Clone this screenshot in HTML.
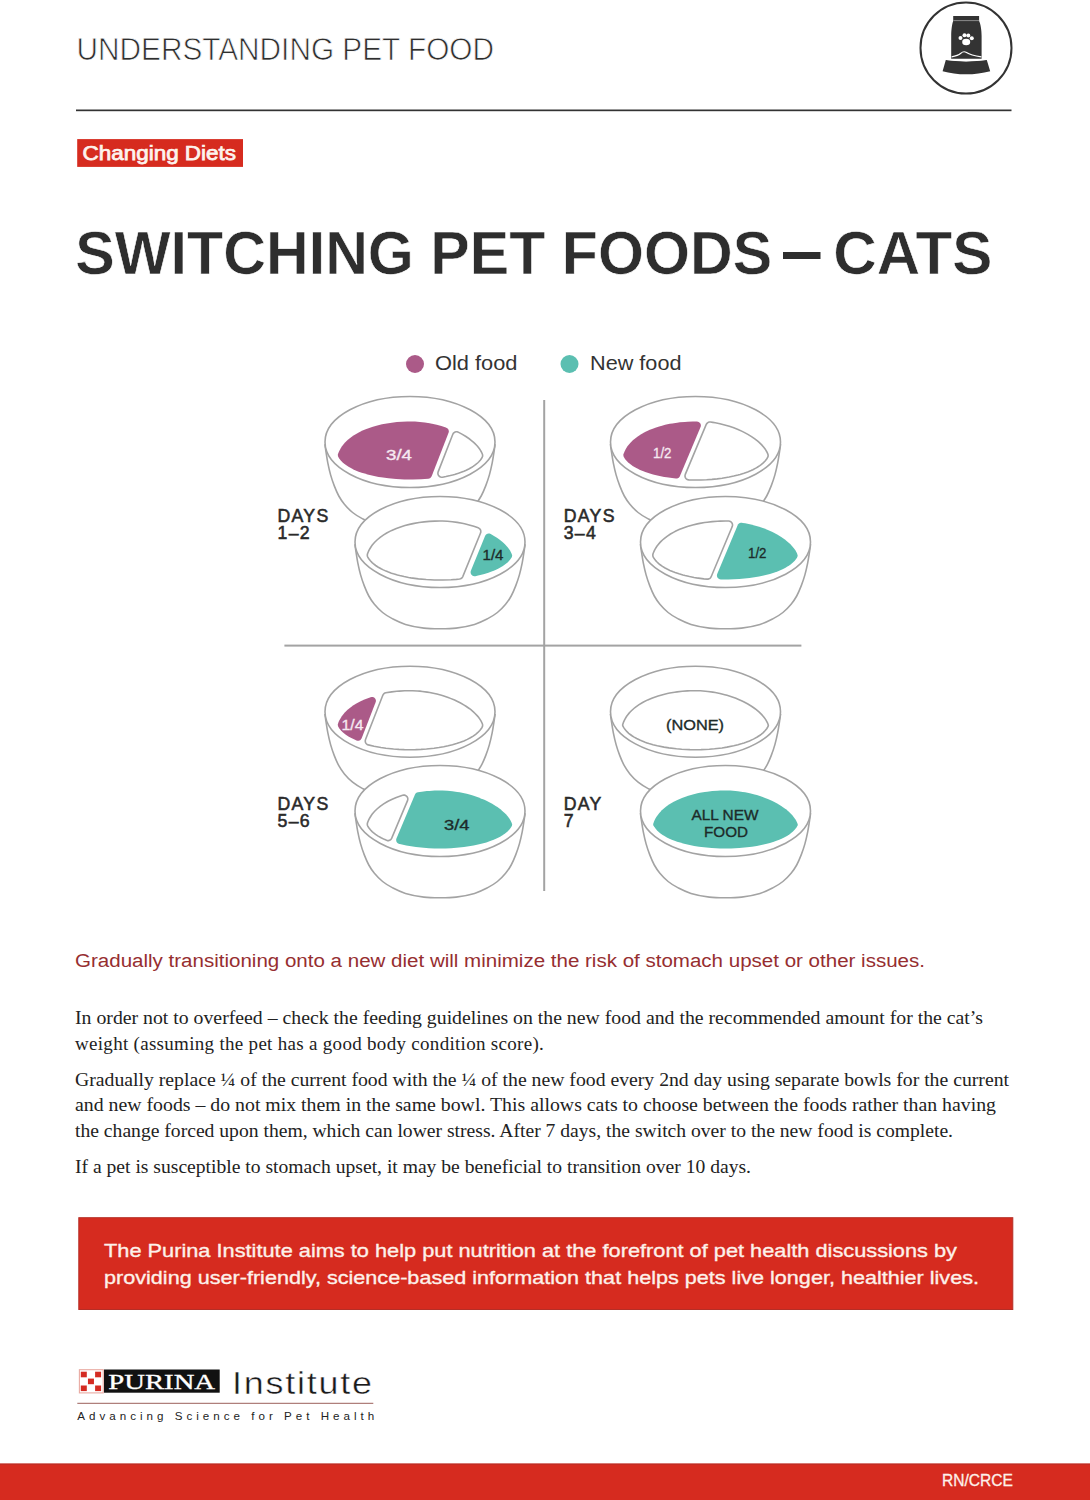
<!DOCTYPE html>
<html><head><meta charset="utf-8"><title>Switching Pet Foods - Cats</title>
<style>
html,body{margin:0;padding:0;background:#fff;}
body{width:1090px;height:1500px;overflow:hidden;position:relative;font-family:"Liberation Sans",sans-serif;}
svg{position:absolute;left:0;top:0;display:block;}
</style></head>
<body>
<svg width="1090" height="1500" viewBox="0 0 1090 1500">
<text x="76.5" y="59.9" font-family="Liberation Sans" font-size="30.8" fill="#2e2e2e" textLength="417.5" lengthAdjust="spacingAndGlyphs" stroke="#fff" stroke-width="0.75">UNDERSTANDING PET FOOD</text>
<rect x="76" y="109.5" width="935.5" height="1.7" fill="#333333"/>
<g>
<circle cx="966" cy="48" r="45.5" fill="none" stroke="#333333" stroke-width="2"/>
<path d="M953.2,16.1 H979.1 V21 C980.6,24 981.6,30 981.6,36 V58.8 H951.2 V36 C951.2,30 952,24 953.2,21 Z" fill="#333333"/>
<rect x="953.2" y="20.1" width="25.9" height="1" fill="#8a8a8a"/>
<g fill="#fff"><circle cx="960.5" cy="38" r="2"/><circle cx="964.5" cy="35.3" r="2"/><circle cx="968.3" cy="35.5" r="2"/><circle cx="971.8" cy="38.3" r="2"/><ellipse cx="966.2" cy="42" rx="4" ry="3.3"/></g>
<path d="M951.6,56.8 C955.5,56.3 958.5,55.5 960.8,53.3 C962.5,51.6 964.5,51.3 966.5,52.5 C969,54.2 974,55.8 981.4,56.9" fill="none" stroke="#fff" stroke-width="1.2"/>
<path d="M945.8,60.1 C958,61.9 974,61.9 986.8,60.1 L990.2,71.2 C975,75.3 957,75.3 942.6,71.2 Z" fill="#333333"/>
<path d="M944,59.3 C958,61.1 974,61.1 988,59.3" fill="none" stroke="#fff" stroke-width="1.1"/>
</g>
<rect x="77.2" y="139.1" width="165.8" height="27.8" fill="#d62b1f"/>
<text x="82.5" y="159.8" font-family="Liberation Sans" font-size="20" fill="#fdf3ee" textLength="153.5" lengthAdjust="spacingAndGlyphs" stroke="#fdf3ee" stroke-width="0.75">Changing Diets</text>
<text x="75.3" y="274.3" font-family="Liberation Sans" font-size="61" font-weight="bold" fill="#2e2e2e" textLength="697" lengthAdjust="spacingAndGlyphs" stroke="#fff" stroke-width="0.6">SWITCHING PET FOODS</text>
<rect x="783" y="252" width="37.5" height="7" fill="#2e2e2e"/>
<text x="833.2" y="274.3" font-family="Liberation Sans" font-size="61" font-weight="bold" fill="#2e2e2e" textLength="159.3" lengthAdjust="spacingAndGlyphs" stroke="#fff" stroke-width="0.6">CATS</text>
<circle cx="415" cy="364" r="9" fill="#ab5a88"/>
<text x="435" y="369.8" font-family="Liberation Sans" font-size="20.3" fill="#333333" textLength="82.5" lengthAdjust="spacingAndGlyphs">Old food</text>
<circle cx="569.5" cy="364" r="9" fill="#5bbfb1"/>
<text x="590" y="369.8" font-family="Liberation Sans" font-size="20.3" fill="#333333" textLength="91.5" lengthAdjust="spacingAndGlyphs">New food</text>
<rect x="543.2" y="400" width="2" height="491" fill="#a3a3a3"/>
<rect x="284.4" y="644.6" width="517" height="2" fill="#a3a3a3"/>
<text x="277.5" y="521.5" font-family="Liberation Sans" font-size="17.7" fill="#2a2a2a" letter-spacing="1.3" stroke="#2a2a2a" stroke-width="0.55">DAYS</text>
<text x="277.5" y="539.2" font-family="Liberation Sans" font-size="17.7" fill="#2a2a2a" letter-spacing="1.3" stroke="#2a2a2a" stroke-width="0.55">1–2</text>
<text x="563.7" y="521.5" font-family="Liberation Sans" font-size="17.7" fill="#2a2a2a" letter-spacing="1.3" stroke="#2a2a2a" stroke-width="0.55">DAYS</text>
<text x="563.7" y="539.2" font-family="Liberation Sans" font-size="17.7" fill="#2a2a2a" letter-spacing="1.3" stroke="#2a2a2a" stroke-width="0.55">3–4</text>
<text x="277.5" y="809.6" font-family="Liberation Sans" font-size="17.7" fill="#2a2a2a" letter-spacing="1.3" stroke="#2a2a2a" stroke-width="0.55">DAYS</text>
<text x="277.5" y="827.3000000000001" font-family="Liberation Sans" font-size="17.7" fill="#2a2a2a" letter-spacing="1.3" stroke="#2a2a2a" stroke-width="0.55">5–6</text>
<text x="563.7" y="809.6" font-family="Liberation Sans" font-size="17.7" fill="#2a2a2a" letter-spacing="1.3" stroke="#2a2a2a" stroke-width="0.55">DAY</text>
<text x="563.7" y="827.3000000000001" font-family="Liberation Sans" font-size="17.7" fill="#2a2a2a" letter-spacing="1.3" stroke="#2a2a2a" stroke-width="0.55">7</text>
<g id="bowls">
<g transform="translate(410,442)"><path d="M-85,3 C-84.83,4.15 -84.47,6.92 -84,9.9 C-83.53,12.88 -82.97,17.07 -82.2,20.9 C-81.43,24.73 -80.48,29.07 -79.4,32.9 C-78.32,36.73 -77.07,40.38 -75.7,43.9 C-74.33,47.42 -72.88,50.95 -71.2,54 C-69.52,57.05 -67.9,59.45 -65.6,62.2 C-63.3,64.95 -60.45,68.05 -57.4,70.5 C-54.35,72.95 -51.12,74.92 -47.3,76.9 C-43.48,78.88 -39.7,80.87 -34.5,82.4 C-29.3,83.93 -21.85,85.37 -16.1,86.1 C-10.35,86.83 -5.37,86.8 0,86.8 C5.37,86.8 10.35,86.83 16.1,86.1 C21.85,85.37 29.3,83.93 34.5,82.4 C39.7,80.87 43.48,78.88 47.3,76.9 C51.12,74.92 54.35,72.95 57.4,70.5 C60.45,68.05 63.3,64.95 65.6,62.2 C67.9,59.45 69.52,57.05 71.2,54 C72.88,50.95 74.33,47.42 75.7,43.9 C77.07,40.38 78.32,36.73 79.4,32.9 C80.48,29.07 81.43,24.73 82.2,20.9 C82.97,17.07 83.53,12.88 84,9.9 C84.47,6.92 84.83,4.15 85,3Z" fill="#fff" stroke="#a3a3a3" stroke-width="1.6"/><ellipse cx="0" cy="0" rx="85" ry="45.5" fill="#fff" stroke="#a3a3a3" stroke-width="1.6"/><path d="M-71.91,11.74 L-72.15,12.85 L-72.07,13.99 L-71.68,15.06 L-70.78,16.5 L-69.25,18.47 L-67.54,20.24 L-66.36,21.29 L-64.05,23.08 L-61.45,24.79 L-58.67,26.36 L-57.01,27.2 L-53.82,28.65 L-51.98,29.39 L-48.38,30.7 L-46.37,31.36 L-42.41,32.51 L-40.23,33.08 L-35.85,34.08 L-31.34,34.95 L-28.91,35.36 L-21.52,36.35 L-13.79,37.04 L-5.59,37.43 L2.8,37.48 L11.06,37.21 L18.31,36.68 L19.39,36.43 L20.36,35.89 L21.14,35.11 L21.68,34.15 L38.56,-9.14 L38.81,-10.17 L38.78,-11.24 L38.47,-12.26 L37.91,-13.16 L37.12,-13.87 L35.9,-14.46 L31.4,-15.89 L26.69,-17.17 L22.04,-18.22 L19.64,-18.69 L14.79,-19.46 L9.9,-20.03 L4.98,-20.38 L2.42,-20.47 L-2.72,-20.47 L-8.02,-20.28 L-13.14,-19.9 L-18.23,-19.34 L-23.19,-18.59 L-28,-17.66 L-32.66,-16.56 L-37.14,-15.29 L-41.44,-13.85 L-43.61,-13.03 L-47.49,-11.38 L-51.25,-9.54 L-54.76,-7.54 L-56.54,-6.41 L-59.55,-4.26 L-62.4,-1.9 L-64.95,0.61 L-66.24,2.05 L-68.21,4.62 L-69.24,6.2 L-70.73,8.92 L-71.41,10.42Z" fill="#ab5a88"/><path d="M28.16,29.85 L27.91,30.87 L27.94,31.93 L28.24,32.95 L28.8,33.85 L29.58,34.57 L30.52,35.06 L31.55,35.29 L32.61,35.23 L35.96,34.58 L40.35,33.58 L42.54,33.02 L44.6,32.44 L48.46,31.24 L50.43,30.55 L53.91,29.2 L55.7,28.43 L58.79,26.94 L61.83,25.25 L63.18,24.4 L65.55,22.73 L67.88,20.77 L68.86,19.81 L70.45,18.02 L71.34,16.82 L72.14,15.51 L72.57,14.37 L72.63,13.15 L72.32,11.98 L71.24,9.73 L70.33,8.17 L69.43,6.82 L67.49,4.33 L66.33,3.02 L64.97,1.63 L63.65,0.38 L60.87,-1.97 L59.22,-3.23 L55.92,-5.5 L52.36,-7.67 L48.65,-9.66 L48.29,-9.84 L47.24,-10.18 L46.14,-10.22 L45.08,-9.97 L44.12,-9.43 L43.34,-8.66 L42.8,-7.7Z" fill="#fff" stroke="#a3a3a3" stroke-width="1.6"/></g>
<g transform="translate(440,542)"><path d="M-85,3 C-84.83,4.15 -84.47,6.92 -84,9.9 C-83.53,12.88 -82.97,17.07 -82.2,20.9 C-81.43,24.73 -80.48,29.07 -79.4,32.9 C-78.32,36.73 -77.07,40.38 -75.7,43.9 C-74.33,47.42 -72.88,50.95 -71.2,54 C-69.52,57.05 -67.9,59.45 -65.6,62.2 C-63.3,64.95 -60.45,68.05 -57.4,70.5 C-54.35,72.95 -51.12,74.92 -47.3,76.9 C-43.48,78.88 -39.7,80.87 -34.5,82.4 C-29.3,83.93 -21.85,85.37 -16.1,86.1 C-10.35,86.83 -5.37,86.8 0,86.8 C5.37,86.8 10.35,86.83 16.1,86.1 C21.85,85.37 29.3,83.93 34.5,82.4 C39.7,80.87 43.48,78.88 47.3,76.9 C51.12,74.92 54.35,72.95 57.4,70.5 C60.45,68.05 63.3,64.95 65.6,62.2 C67.9,59.45 69.52,57.05 71.2,54 C72.88,50.95 74.33,47.42 75.7,43.9 C77.07,40.38 78.32,36.73 79.4,32.9 C80.48,29.07 81.43,24.73 82.2,20.9 C82.97,17.07 83.53,12.88 84,9.9 C84.47,6.92 84.83,4.15 85,3Z" fill="#fff" stroke="#a3a3a3" stroke-width="1.6"/><ellipse cx="0" cy="0" rx="85" ry="45.5" fill="#fff" stroke="#a3a3a3" stroke-width="1.6"/><path d="M-72.46,11.78 L-72.7,12.89 L-72.62,14.03 L-72.23,15.1 L-71.19,16.79 L-69.62,18.8 L-67.88,20.6 L-66.68,21.67 L-64.34,23.49 L-61.71,25.22 L-58.9,26.81 L-57.23,27.65 L-54.01,29.11 L-52.16,29.86 L-48.54,31.17 L-46.52,31.83 L-42.54,32.99 L-40.35,33.56 L-35.96,34.57 L-31.42,35.44 L-28.99,35.85 L-21.58,36.85 L-13.77,37.54 L-5.6,37.93 L2.86,37.98 L11.14,37.7 L16.42,37.35 L19.49,37.07 L20.54,36.81 L21.48,36.29 L22.25,35.53 L22.78,34.6 L40.53,-8.9 L40.8,-9.95 L40.78,-11.02 L40.48,-12.05 L39.91,-12.97 L39.12,-13.69 L38.16,-14.19 L33.82,-15.67 L29.15,-17.05 L24.53,-18.2 L22.14,-18.71 L17.22,-19.61 L12.32,-20.28 L7.38,-20.74 L2.52,-20.97 L-0.04,-21 L-5.4,-20.9 L-10.67,-20.61 L-15.83,-20.13 L-20.88,-19.47 L-25.79,-18.62 L-30.47,-17.62 L-35.06,-16.43 L-39.47,-15.06 L-43.69,-13.53 L-47.7,-11.84 L-49.72,-10.88 L-53.28,-8.99 L-56.7,-6.9 L-59.85,-4.66 L-62.73,-2.27 L-65.32,0.27 L-66.62,1.73 L-67.72,3.1 L-68.74,4.5 L-70.42,7.22 L-71.28,8.91 L-71.87,10.23Z" fill="#fff" stroke="#a3a3a3" stroke-width="1.6"/><path d="M30.87,28.76 L30.6,29.8 L30.62,30.87 L30.92,31.9 L31.49,32.82 L32.28,33.55 L33.23,34.04 L34.28,34.26 L35.36,34.19 L38.07,33.61 L40.3,33.08 L44.38,31.98 L48.38,30.74 L50.26,30.08 L53.72,28.74 L55.5,27.97 L58.56,26.5 L61.57,24.82 L62.91,23.98 L65.24,22.33 L67.54,20.4 L68.51,19.46 L70.06,17.71 L70.92,16.53 L71.59,15.48 L72.01,14.34 L72.07,13.13 L71.76,11.95 L70.8,9.97 L70.02,8.62 L69.14,7.28 L68.05,5.81 L66.99,4.52 L64.73,2.1 L61.92,-0.46 L59.03,-2.75 L57.32,-3.97 L54,-6.11 L50.7,-8.01 L49.65,-8.41 L48.53,-8.51 L47.43,-8.29 L46.44,-7.77 L45.62,-6.99 L45.06,-6.02Z" fill="#5bbfb1"/></g>
<g transform="translate(695.5,442)"><path d="M-85,3 C-84.83,4.15 -84.47,6.92 -84,9.9 C-83.53,12.88 -82.97,17.07 -82.2,20.9 C-81.43,24.73 -80.48,29.07 -79.4,32.9 C-78.32,36.73 -77.07,40.38 -75.7,43.9 C-74.33,47.42 -72.88,50.95 -71.2,54 C-69.52,57.05 -67.9,59.45 -65.6,62.2 C-63.3,64.95 -60.45,68.05 -57.4,70.5 C-54.35,72.95 -51.12,74.92 -47.3,76.9 C-43.48,78.88 -39.7,80.87 -34.5,82.4 C-29.3,83.93 -21.85,85.37 -16.1,86.1 C-10.35,86.83 -5.37,86.8 0,86.8 C5.37,86.8 10.35,86.83 16.1,86.1 C21.85,85.37 29.3,83.93 34.5,82.4 C39.7,80.87 43.48,78.88 47.3,76.9 C51.12,74.92 54.35,72.95 57.4,70.5 C60.45,68.05 63.3,64.95 65.6,62.2 C67.9,59.45 69.52,57.05 71.2,54 C72.88,50.95 74.33,47.42 75.7,43.9 C77.07,40.38 78.32,36.73 79.4,32.9 C80.48,29.07 81.43,24.73 82.2,20.9 C82.97,17.07 83.53,12.88 84,9.9 C84.47,6.92 84.83,4.15 85,3Z" fill="#fff" stroke="#a3a3a3" stroke-width="1.6"/><ellipse cx="0" cy="0" rx="85" ry="45.5" fill="#fff" stroke="#a3a3a3" stroke-width="1.6"/><path d="M-71.91,11.74 L-72.15,12.85 L-72.07,13.99 L-71.68,15.06 L-70.92,16.3 L-70.05,17.5 L-68.5,19.28 L-67.54,20.24 L-65.37,22.09 L-62.79,23.95 L-60.15,25.55 L-58.67,26.36 L-55.4,27.95 L-52.07,29.36 L-50.25,30.04 L-46.37,31.36 L-42.41,32.51 L-40.3,33.06 L-35.92,34.06 L-31.34,34.95 L-28.91,35.36 L-21.58,36.34 L-19.63,36.55 L-18.61,36.52 L-17.63,36.24 L-16.76,35.72 L-16.04,35 L-15.53,34.12 L5.07,-14.93 L5.36,-16.01 L5.33,-17.13 L5,-18.19 L4.39,-19.12 L3.55,-19.85 L2.53,-20.31 L1.43,-20.48 L-2.72,-20.47 L-7.94,-20.28 L-10.63,-20.11 L-15.7,-19.64 L-18.31,-19.33 L-23.19,-18.59 L-25.7,-18.13 L-30.35,-17.13 L-32.75,-16.54 L-37.14,-15.29 L-39.41,-14.56 L-43.51,-13.07 L-45.63,-12.2 L-49.4,-10.48 L-51.35,-9.48 L-54.76,-7.54 L-58.14,-5.31 L-61.01,-3.1 L-62.4,-1.9 L-63.83,-0.54 L-65.07,0.74 L-67.2,3.25 L-68.21,4.62 L-69.24,6.2 L-70.08,7.65 L-70.83,9.13Z" fill="#ab5a88"/><path d="M-10.19,32.35 L-10.47,33.41 L-10.45,34.51 L-10.13,35.57 L-9.54,36.5 L-8.71,37.23 L-7.72,37.7 L-6.63,37.89 L-0.03,38 L5.6,37.93 L11.09,37.71 L16.47,37.34 L21.64,36.84 L26.62,36.21 L33.68,35.04 L38.25,34.08 L42.46,33.04 L44.6,32.44 L48.46,31.24 L52.16,29.91 L55.61,28.47 L57.34,27.67 L60.29,26.15 L61.83,25.25 L64.34,23.62 L65.68,22.63 L67.74,20.9 L69.62,19 L71.19,17.02 L72.14,15.51 L72.57,14.37 L72.63,13.15 L72.32,11.98 L71.94,11.12 L71.24,9.73 L70.33,8.17 L69.43,6.82 L68.45,5.5 L66.21,2.9 L63.65,0.38 L62.25,-0.85 L59.32,-3.15 L56.01,-5.44 L52.36,-7.67 L48.65,-9.66 L46.67,-10.63 L42.56,-12.46 L38.27,-14.15 L33.82,-15.67 L29.15,-17.05 L24.44,-18.22 L19.73,-19.18 L17.3,-19.59 L15.04,-19.93 L13.98,-19.95 L12.96,-19.69 L12.04,-19.17 L11.29,-18.43 L10.76,-17.52Z" fill="#fff" stroke="#a3a3a3" stroke-width="1.6"/></g>
<g transform="translate(725.5,542)"><path d="M-85,3 C-84.83,4.15 -84.47,6.92 -84,9.9 C-83.53,12.88 -82.97,17.07 -82.2,20.9 C-81.43,24.73 -80.48,29.07 -79.4,32.9 C-78.32,36.73 -77.07,40.38 -75.7,43.9 C-74.33,47.42 -72.88,50.95 -71.2,54 C-69.52,57.05 -67.9,59.45 -65.6,62.2 C-63.3,64.95 -60.45,68.05 -57.4,70.5 C-54.35,72.95 -51.12,74.92 -47.3,76.9 C-43.48,78.88 -39.7,80.87 -34.5,82.4 C-29.3,83.93 -21.85,85.37 -16.1,86.1 C-10.35,86.83 -5.37,86.8 0,86.8 C5.37,86.8 10.35,86.83 16.1,86.1 C21.85,85.37 29.3,83.93 34.5,82.4 C39.7,80.87 43.48,78.88 47.3,76.9 C51.12,74.92 54.35,72.95 57.4,70.5 C60.45,68.05 63.3,64.95 65.6,62.2 C67.9,59.45 69.52,57.05 71.2,54 C72.88,50.95 74.33,47.42 75.7,43.9 C77.07,40.38 78.32,36.73 79.4,32.9 C80.48,29.07 81.43,24.73 82.2,20.9 C82.97,17.07 83.53,12.88 84,9.9 C84.47,6.92 84.83,4.15 85,3Z" fill="#fff" stroke="#a3a3a3" stroke-width="1.6"/><ellipse cx="0" cy="0" rx="85" ry="45.5" fill="#fff" stroke="#a3a3a3" stroke-width="1.6"/><path d="M-72.46,11.78 L-72.7,12.89 L-72.62,14.03 L-72.23,15.1 L-71.33,16.58 L-70.59,17.61 L-69.77,18.63 L-68.72,19.78 L-66.82,21.56 L-65.68,22.49 L-63.06,24.37 L-60.4,25.99 L-58.9,26.81 L-55.61,28.41 L-52.25,29.82 L-50.43,30.51 L-46.52,31.83 L-42.54,32.99 L-40.42,33.54 L-36.03,34.55 L-31.42,35.44 L-28.99,35.85 L-21.64,36.84 L-18.37,37.17 L-17.37,37.13 L-16.4,36.85 L-15.54,36.33 L-14.83,35.61 L-14.33,34.74 L6.73,-15.4 L7.01,-16.46 L6.99,-17.56 L6.67,-18.62 L6.08,-19.55 L5.26,-20.28 L4.27,-20.75 L3.18,-20.94 L-0.04,-21 L-5.32,-20.9 L-8.04,-20.78 L-13.26,-20.4 L-18.29,-19.83 L-20.88,-19.47 L-25.71,-18.64 L-28.19,-18.13 L-32.79,-17.05 L-37.29,-15.77 L-39.57,-15.03 L-43.69,-13.53 L-45.82,-12.66 L-49.62,-10.93 L-51.59,-9.92 L-55.02,-7.97 L-58.43,-5.72 L-61.33,-3.48 L-62.73,-2.27 L-64.19,-0.9 L-65.44,0.4 L-67.6,2.94 L-68.62,4.33 L-69.67,5.94 L-70.52,7.41 L-71.28,8.91 L-71.87,10.23Z" fill="#fff" stroke="#a3a3a3" stroke-width="1.6"/><path d="M-8.3,31.9 L-8.58,32.97 L-8.56,34.08 L-8.23,35.14 L-7.63,36.07 L-6.79,36.8 L-5.78,37.27 L-4.69,37.44 L2.8,37.48 L8.34,37.33 L13.74,37.05 L18.97,36.62 L24.03,36.05 L28.91,35.36 L33.59,34.55 L38.14,33.59 L42.33,32.55 L44.46,31.96 L48.3,30.76 L51.98,29.44 L55.4,28.02 L57.12,27.22 L60.04,25.71 L61.57,24.82 L64.05,23.21 L65.38,22.23 L67.4,20.53 L69.25,18.67 L70.78,16.74 L71.59,15.48 L72.01,14.34 L72.07,13.13 L71.76,11.95 L71.38,11.1 L70.02,8.62 L69.14,7.28 L68.17,5.96 L67.11,4.65 L64.73,2.1 L62.03,-0.37 L59.03,-2.75 L55.74,-5.02 L52.11,-7.23 L48.42,-9.21 L46.45,-10.18 L42.36,-12 L38.09,-13.68 L33.66,-15.2 L29.01,-16.56 L24.33,-17.73 L19.64,-18.69 L17.22,-19.1 L16.44,-19.22 L15.38,-19.23 L14.36,-18.98 L13.44,-18.46 L12.69,-17.72 L12.16,-16.81Z" fill="#5bbfb1"/></g>
<g transform="translate(410,711.7)"><path d="M-85,3 C-84.83,4.15 -84.47,6.92 -84,9.9 C-83.53,12.88 -82.97,17.07 -82.2,20.9 C-81.43,24.73 -80.48,29.07 -79.4,32.9 C-78.32,36.73 -77.07,40.38 -75.7,43.9 C-74.33,47.42 -72.88,50.95 -71.2,54 C-69.52,57.05 -67.9,59.45 -65.6,62.2 C-63.3,64.95 -60.45,68.05 -57.4,70.5 C-54.35,72.95 -51.12,74.92 -47.3,76.9 C-43.48,78.88 -39.7,80.87 -34.5,82.4 C-29.3,83.93 -21.85,85.37 -16.1,86.1 C-10.35,86.83 -5.37,86.8 0,86.8 C5.37,86.8 10.35,86.83 16.1,86.1 C21.85,85.37 29.3,83.93 34.5,82.4 C39.7,80.87 43.48,78.88 47.3,76.9 C51.12,74.92 54.35,72.95 57.4,70.5 C60.45,68.05 63.3,64.95 65.6,62.2 C67.9,59.45 69.52,57.05 71.2,54 C72.88,50.95 74.33,47.42 75.7,43.9 C77.07,40.38 78.32,36.73 79.4,32.9 C80.48,29.07 81.43,24.73 82.2,20.9 C82.97,17.07 83.53,12.88 84,9.9 C84.47,6.92 84.83,4.15 85,3Z" fill="#fff" stroke="#a3a3a3" stroke-width="1.6"/><ellipse cx="0" cy="0" rx="85" ry="45.5" fill="#fff" stroke="#a3a3a3" stroke-width="1.6"/><path d="M-71.91,11.74 L-72.15,12.85 L-72.07,13.99 L-71.68,15.06 L-70.78,16.5 L-69.25,18.47 L-67.54,20.24 L-66.36,21.29 L-64.18,22.99 L-61.57,24.72 L-58.67,26.36 L-55.5,27.91 L-53.56,28.75 L-52.54,29.01 L-51.49,29 L-50.48,28.72 L-49.57,28.18 L-48.84,27.42 L-48.33,26.5 L-34.36,-9.33 L-34.12,-10.31 L-34.12,-11.32 L-34.39,-12.29 L-34.88,-13.17 L-35.58,-13.9 L-36.45,-14.43 L-37.41,-14.72 L-38.42,-14.77 L-39.41,-14.56 L-43.51,-13.07 L-45.53,-12.24 L-49.4,-10.48 L-53.15,-8.49 L-56.54,-6.41 L-59.55,-4.26 L-62.4,-1.9 L-64.95,0.61 L-66.24,2.05 L-68.21,4.62 L-69.24,6.2 L-70.73,8.92 L-71.41,10.42Z" fill="#ab5a88"/><path d="M-44.47,27.87 L-44.73,28.97 L-44.67,30.09 L-44.31,31.15 L-43.66,32.06 L-42.78,32.77 L-41.75,33.2 L-35.96,34.57 L-29.05,35.84 L-24.09,36.55 L-16.47,37.34 L-11.14,37.7 L-5.66,37.92 L-0.03,38 L5.6,37.93 L11.14,37.7 L16.47,37.34 L24.09,36.55 L28.99,35.86 L33.68,35.04 L38.18,34.09 L42.46,33.04 L46.52,31.86 L50.34,30.59 L53.91,29.2 L57.34,27.67 L60.4,26.08 L63.18,24.4 L65.68,22.63 L67.88,20.77 L69.77,18.83 L70.59,17.83 L71.86,16.01 L72.14,15.51 L72.57,14.37 L72.63,13.15 L72.32,11.98 L71.24,9.73 L70.33,8.17 L68.57,5.65 L67.37,4.19 L65.08,1.74 L63.65,0.38 L60.87,-1.97 L59.22,-3.23 L56.01,-5.44 L54.17,-6.6 L50.58,-8.65 L48.56,-9.7 L44.55,-11.6 L40.43,-13.33 L38.18,-14.18 L33.82,-15.67 L31.46,-16.39 L26.89,-17.63 L24.44,-18.22 L19.73,-19.18 L17.22,-19.61 L12.41,-20.27 L9.95,-20.53 L7.38,-20.74 L2.52,-20.97 L-2.73,-20.97 L-5.4,-20.9 L-10.59,-20.62 L-13.26,-20.4 L-18.29,-19.83 L-24.18,-18.92 L-25.15,-18.61 L-26.01,-18.07 L-26.7,-17.33 L-27.19,-16.44Z" fill="#fff" stroke="#a3a3a3" stroke-width="1.6"/></g>
<g transform="translate(440,811)"><path d="M-85,3 C-84.83,4.15 -84.47,6.92 -84,9.9 C-83.53,12.88 -82.97,17.07 -82.2,20.9 C-81.43,24.73 -80.48,29.07 -79.4,32.9 C-78.32,36.73 -77.07,40.38 -75.7,43.9 C-74.33,47.42 -72.88,50.95 -71.2,54 C-69.52,57.05 -67.9,59.45 -65.6,62.2 C-63.3,64.95 -60.45,68.05 -57.4,70.5 C-54.35,72.95 -51.12,74.92 -47.3,76.9 C-43.48,78.88 -39.7,80.87 -34.5,82.4 C-29.3,83.93 -21.85,85.37 -16.1,86.1 C-10.35,86.83 -5.37,86.8 0,86.8 C5.37,86.8 10.35,86.83 16.1,86.1 C21.85,85.37 29.3,83.93 34.5,82.4 C39.7,80.87 43.48,78.88 47.3,76.9 C51.12,74.92 54.35,72.95 57.4,70.5 C60.45,68.05 63.3,64.95 65.6,62.2 C67.9,59.45 69.52,57.05 71.2,54 C72.88,50.95 74.33,47.42 75.7,43.9 C77.07,40.38 78.32,36.73 79.4,32.9 C80.48,29.07 81.43,24.73 82.2,20.9 C82.97,17.07 83.53,12.88 84,9.9 C84.47,6.92 84.83,4.15 85,3Z" fill="#fff" stroke="#a3a3a3" stroke-width="1.6"/><ellipse cx="0" cy="0" rx="85" ry="45.5" fill="#fff" stroke="#a3a3a3" stroke-width="1.6"/><path d="M-72.46,11.78 L-72.7,12.89 L-72.62,14.03 L-72.23,15.1 L-71.19,16.79 L-69.62,18.8 L-67.88,20.6 L-66.68,21.67 L-64.47,23.4 L-61.83,25.15 L-58.9,26.81 L-55.71,28.36 L-53.45,29.33 L-52.45,29.59 L-51.42,29.59 L-50.42,29.32 L-49.52,28.8 L-48.78,28.07 L-48.26,27.17 L-32.49,-10.37 L-32.22,-11.35 L-32.2,-12.36 L-32.44,-13.34 L-32.92,-14.23 L-33.6,-14.98 L-34.45,-15.53 L-35.41,-15.85 L-36.42,-15.92 L-37.41,-15.73 L-41.61,-14.32 L-43.69,-13.53 L-47.8,-11.79 L-51.48,-9.98 L-53.28,-8.99 L-56.7,-6.9 L-59.85,-4.66 L-62.73,-2.27 L-65.32,0.27 L-66.62,1.73 L-67.72,3.1 L-68.74,4.5 L-70.42,7.22 L-71.28,8.91 L-71.87,10.23Z" fill="#fff" stroke="#a3a3a3" stroke-width="1.6"/><path d="M-43.55,27.49 L-43.81,28.43 L-43.84,29.41 L-43.63,30.36 L-43.2,31.24 L-42.57,31.98 L-41.77,32.55 L-40.86,32.91 L-40.23,33.08 L-33.66,34.52 L-28.91,35.36 L-24.03,36.05 L-16.43,36.84 L-11.12,37.2 L-5.64,37.42 L-0.03,37.5 L5.59,37.43 L11.12,37.2 L16.43,36.84 L24.03,36.05 L28.91,35.36 L33.59,34.55 L38.07,33.61 L42.33,32.55 L46.37,31.39 L50.17,30.12 L53.72,28.74 L57.02,27.27 L60.15,25.65 L62.91,23.98 L65.38,22.23 L67.54,20.4 L69.39,18.5 L70.2,17.52 L71.43,15.75 L71.59,15.48 L72.01,14.34 L72.07,13.13 L71.76,11.95 L70.69,9.76 L69.14,7.28 L68.05,5.81 L65.96,3.37 L64.62,1.99 L62.03,-0.37 L60.46,-1.66 L57.42,-3.9 L55.65,-5.08 L52.2,-7.18 L50.25,-8.26 L46.45,-10.18 L44.35,-11.15 L40.25,-12.86 L38.01,-13.71 L33.66,-15.2 L31.31,-15.92 L26.77,-17.15 L24.33,-17.73 L19.64,-18.69 L17.14,-19.11 L12.35,-19.77 L9.9,-20.03 L7.35,-20.24 L2.51,-20.47 L-2.72,-20.47 L-5.38,-20.4 L-10.56,-20.12 L-13.22,-19.9 L-18.23,-19.34 L-22.07,-18.77 L-23.04,-18.48 L-23.91,-17.97 L-24.62,-17.25 L-25.12,-16.37Z" fill="#5bbfb1"/></g>
<g transform="translate(695.5,711.7)"><path d="M-85,3 C-84.83,4.15 -84.47,6.92 -84,9.9 C-83.53,12.88 -82.97,17.07 -82.2,20.9 C-81.43,24.73 -80.48,29.07 -79.4,32.9 C-78.32,36.73 -77.07,40.38 -75.7,43.9 C-74.33,47.42 -72.88,50.95 -71.2,54 C-69.52,57.05 -67.9,59.45 -65.6,62.2 C-63.3,64.95 -60.45,68.05 -57.4,70.5 C-54.35,72.95 -51.12,74.92 -47.3,76.9 C-43.48,78.88 -39.7,80.87 -34.5,82.4 C-29.3,83.93 -21.85,85.37 -16.1,86.1 C-10.35,86.83 -5.37,86.8 0,86.8 C5.37,86.8 10.35,86.83 16.1,86.1 C21.85,85.37 29.3,83.93 34.5,82.4 C39.7,80.87 43.48,78.88 47.3,76.9 C51.12,74.92 54.35,72.95 57.4,70.5 C60.45,68.05 63.3,64.95 65.6,62.2 C67.9,59.45 69.52,57.05 71.2,54 C72.88,50.95 74.33,47.42 75.7,43.9 C77.07,40.38 78.32,36.73 79.4,32.9 C80.48,29.07 81.43,24.73 82.2,20.9 C82.97,17.07 83.53,12.88 84,9.9 C84.47,6.92 84.83,4.15 85,3Z" fill="#fff" stroke="#a3a3a3" stroke-width="1.6"/><ellipse cx="0" cy="0" rx="85" ry="45.5" fill="#fff" stroke="#a3a3a3" stroke-width="1.6"/><path d="M-72.77,12.77 L-72.86,13.25 L-72.83,13.73 L-72.68,14.2 L-71.89,15.7 L-70.56,17.66 L-68.76,19.74 L-66.79,21.59 L-65.58,22.57 L-63.15,24.31 L-61.8,25.17 L-58.82,26.85 L-55.68,28.38 L-53.94,29.14 L-50.4,30.52 L-48.52,31.18 L-46.54,31.83 L-42.52,33 L-38.2,34.08 L-31.41,35.45 L-26.58,36.21 L-19.06,37.11 L-13.79,37.54 L-5.64,37.93 L-0.01,38 L5.64,37.93 L13.79,37.54 L19.06,37.11 L26.58,36.22 L31.41,35.45 L38.2,34.09 L42.52,33.02 L46.54,31.86 L48.52,31.22 L50.4,30.56 L53.94,29.19 L57.31,27.68 L58.87,26.9 L61.74,25.31 L64.44,23.55 L65.65,22.65 L67.78,20.87 L69.73,18.87 L71.23,16.97 L71.96,15.84 L72.65,14.54 L72.81,14.05 L72.83,13.53 L72.52,12.46 L71.87,10.95 L71.16,9.57 L70.36,8.21 L69.52,6.95 L68.48,5.54 L67.4,4.22 L66.24,2.93 L63.73,0.46 L60.8,-2.03 L59.25,-3.21 L55.99,-5.46 L52.38,-7.65 L48.63,-9.67 L46.6,-10.66 L42.54,-12.47 L40.41,-13.33 L36,-14.95 L31.52,-16.38 L29.21,-17.03 L24.46,-18.21 L19.71,-19.18 L17.28,-19.6 L12.34,-20.28 L7.45,-20.73 L4.98,-20.88 L0.02,-21 L-5.38,-20.9 L-8.03,-20.78 L-13.21,-20.4 L-18.35,-19.83 L-20.86,-19.47 L-25.73,-18.64 L-28.17,-18.14 L-32.81,-17.04 L-37.36,-15.75 L-41.63,-14.31 L-43.72,-13.52 L-47.78,-11.8 L-51.51,-9.96 L-53.31,-8.98 L-56.79,-6.84 L-59.88,-4.64 L-61.36,-3.46 L-64.09,-0.99 L-65.35,0.3 L-66.59,1.69 L-67.63,2.98 L-68.65,4.37 L-69.59,5.8 L-70.49,7.36 L-71.26,8.86 L-71.94,10.39Z" fill="#fff" stroke="#a3a3a3" stroke-width="1.6"/></g>
<g transform="translate(725.5,811)"><path d="M-85,3 C-84.83,4.15 -84.47,6.92 -84,9.9 C-83.53,12.88 -82.97,17.07 -82.2,20.9 C-81.43,24.73 -80.48,29.07 -79.4,32.9 C-78.32,36.73 -77.07,40.38 -75.7,43.9 C-74.33,47.42 -72.88,50.95 -71.2,54 C-69.52,57.05 -67.9,59.45 -65.6,62.2 C-63.3,64.95 -60.45,68.05 -57.4,70.5 C-54.35,72.95 -51.12,74.92 -47.3,76.9 C-43.48,78.88 -39.7,80.87 -34.5,82.4 C-29.3,83.93 -21.85,85.37 -16.1,86.1 C-10.35,86.83 -5.37,86.8 0,86.8 C5.37,86.8 10.35,86.83 16.1,86.1 C21.85,85.37 29.3,83.93 34.5,82.4 C39.7,80.87 43.48,78.88 47.3,76.9 C51.12,74.92 54.35,72.95 57.4,70.5 C60.45,68.05 63.3,64.95 65.6,62.2 C67.9,59.45 69.52,57.05 71.2,54 C72.88,50.95 74.33,47.42 75.7,43.9 C77.07,40.38 78.32,36.73 79.4,32.9 C80.48,29.07 81.43,24.73 82.2,20.9 C82.97,17.07 83.53,12.88 84,9.9 C84.47,6.92 84.83,4.15 85,3Z" fill="#fff" stroke="#a3a3a3" stroke-width="1.6"/><ellipse cx="0" cy="0" rx="85" ry="45.5" fill="#fff" stroke="#a3a3a3" stroke-width="1.6"/><path d="M-72.24,12.74 L-72.33,13.21 L-72.29,13.7 L-72.15,14.16 L-71.46,15.44 L-70.16,17.36 L-68.4,19.39 L-66.46,21.21 L-65.27,22.17 L-62.88,23.89 L-61.48,24.78 L-58.64,26.38 L-57.09,27.16 L-53.74,28.68 L-50.23,30.05 L-48.36,30.71 L-46.39,31.35 L-42.39,32.52 L-38.09,33.59 L-31.32,34.95 L-26.51,35.72 L-19.01,36.61 L-13.75,37.04 L-5.63,37.43 L-0.01,37.5 L5.63,37.43 L13.75,37.04 L19.01,36.61 L26.51,35.72 L31.32,34.96 L38.09,33.6 L42.39,32.54 L44.44,31.97 L48.32,30.76 L50.23,30.09 L53.75,28.73 L57.09,27.23 L58.64,26.46 L61.48,24.88 L64.15,23.14 L65.34,22.26 L67.44,20.5 L69.36,18.54 L70.82,16.69 L71.53,15.58 L72.11,14.52 L72.27,14.03 L72.29,13.51 L72.05,12.64 L71.41,11.16 L70.72,9.81 L69.99,8.57 L69.05,7.15 L67.02,4.55 L65.88,3.27 L63.39,0.83 L60.49,-1.64 L58.95,-2.81 L55.72,-5.04 L52.13,-7.22 L48.4,-9.22 L46.39,-10.21 L42.34,-12.01 L40.23,-12.87 L35.84,-14.48 L31.38,-15.9 L29.08,-16.55 L24.35,-17.72 L19.62,-18.69 L17.2,-19.1 L12.29,-19.78 L7.42,-20.23 L4.95,-20.38 L0.02,-20.5 L-5.36,-20.4 L-8,-20.28 L-13.16,-19.9 L-18.29,-19.33 L-20.78,-18.98 L-25.63,-18.15 L-28.07,-17.65 L-32.68,-16.56 L-37.21,-15.27 L-41.46,-13.84 L-43.53,-13.06 L-47.57,-11.35 L-51.27,-9.52 L-53.06,-8.54 L-56.51,-6.43 L-59.58,-4.24 L-61.04,-3.07 L-63.74,-0.63 L-64.98,0.64 L-66.21,2.02 L-68.24,4.66 L-69.16,6.06 L-70.06,7.6 L-70.81,9.07 L-71.47,10.58Z" fill="#5bbfb1"/></g>
</g>
<text x="386" y="460.3" font-family="Liberation Sans" font-size="15.5" fill="#f6e9f1" textLength="26" lengthAdjust="spacingAndGlyphs" stroke="#f6e9f1" stroke-width="0.35">3/4</text>
<text x="482.5" y="559.7" font-family="Liberation Sans" font-size="15.5" fill="#1d2b29" textLength="21" lengthAdjust="spacingAndGlyphs" stroke="#1d2b29" stroke-width="0.35">1/4</text>
<text x="653" y="458" font-family="Liberation Sans" font-size="15.5" fill="#f6e9f1" textLength="18.5" lengthAdjust="spacingAndGlyphs" stroke="#f6e9f1" stroke-width="0.35">1/2</text>
<text x="748" y="557.8" font-family="Liberation Sans" font-size="15.5" fill="#1d2b29" textLength="18.5" lengthAdjust="spacingAndGlyphs" stroke="#1d2b29" stroke-width="0.35">1/2</text>
<text x="341.5" y="729.5" font-family="Liberation Sans" font-size="15.5" fill="#f6e9f1" textLength="22" lengthAdjust="spacingAndGlyphs" stroke="#f6e9f1" stroke-width="0.35">1/4</text>
<text x="444" y="829.6" font-family="Liberation Sans" font-size="15.5" fill="#1d2b29" textLength="25.5" lengthAdjust="spacingAndGlyphs" stroke="#1d2b29" stroke-width="0.35">3/4</text>
<text x="666" y="730.2" font-family="Liberation Sans" font-size="15.5" fill="#1d2b29" textLength="58" lengthAdjust="spacingAndGlyphs" stroke="#1d2b29" stroke-width="0.35">(NONE)</text>
<text x="691.5" y="819.5" font-family="Liberation Sans" font-size="15.5" fill="#1d2b29" textLength="67" lengthAdjust="spacingAndGlyphs" stroke="#1d2b29" stroke-width="0.35">ALL NEW</text>
<text x="704" y="836.7" font-family="Liberation Sans" font-size="15.5" fill="#1d2b29" textLength="44" lengthAdjust="spacingAndGlyphs" stroke="#1d2b29" stroke-width="0.35">FOOD</text>
<text x="75" y="967.2" font-family="Liberation Sans" font-size="18" fill="#962e30" textLength="850" lengthAdjust="spacingAndGlyphs">Gradually transitioning onto a new diet will minimize the risk of stomach upset or other issues.</text>
<text x="75" y="1024.3" font-family="Liberation Serif" font-size="19" fill="#222" textLength="908" lengthAdjust="spacingAndGlyphs">In order not to overfeed – check the feeding guidelines on the new food and the recommended amount for the cat’s</text>
<text x="75" y="1049.6" font-family="Liberation Serif" font-size="19" fill="#222" letter-spacing="0.3">weight (assuming the pet has a good body condition score).</text>
<text x="75" y="1085.7" font-family="Liberation Serif" font-size="19" fill="#222" textLength="934" lengthAdjust="spacingAndGlyphs">Gradually replace ¼ of the current food with the ¼ of the new food every 2nd day using separate bowls for the current</text>
<text x="75" y="1110.9" font-family="Liberation Serif" font-size="19" fill="#222" textLength="921" lengthAdjust="spacingAndGlyphs">and new foods – do not mix them in the same bowl. This allows cats to choose between the foods rather than having</text>
<text x="75" y="1136.8" font-family="Liberation Serif" font-size="19" fill="#222" textLength="878" lengthAdjust="spacingAndGlyphs">the change forced upon them, which can lower stress. After 7 days, the switch over to the new food is complete.</text>
<text x="75" y="1173.4" font-family="Liberation Serif" font-size="19" fill="#222" textLength="676" lengthAdjust="spacingAndGlyphs">If a pet is susceptible to stomach upset, it may be beneficial to transition over 10 days.</text>
<rect x="78.8" y="1217.7" width="934" height="91.8" fill="#d62b1f" stroke="#b52e26" stroke-width="1"/>
<text x="104" y="1257.4" font-family="Liberation Sans" font-size="19" fill="#fdf1ea" textLength="853" lengthAdjust="spacingAndGlyphs" stroke="#fdf1ea" stroke-width="0.35">The Purina Institute aims to help put nutrition at the forefront of pet health discussions by</text>
<text x="104" y="1284" font-family="Liberation Sans" font-size="19" fill="#fdf1ea" textLength="875" lengthAdjust="spacingAndGlyphs" stroke="#fdf1ea" stroke-width="0.35">providing user-friendly, science-based information that helps pets live longer, healthier lives.</text>
<g>
<rect x="79.4" y="1369.7" width="23.8" height="23.2" fill="#fff" stroke="#e9aaa2" stroke-width="1.1"/>
<rect x="80.80" y="1371.70" width="6" height="5.6" fill="#d42b22"/>
<rect x="95.10" y="1371.70" width="6" height="5.6" fill="#d42b22"/>
<rect x="87.95" y="1378.60" width="6" height="5.6" fill="#d42b22"/>
<rect x="80.80" y="1385.50" width="6" height="5.6" fill="#d42b22"/>
<rect x="95.10" y="1385.50" width="6" height="5.6" fill="#d42b22"/>
<rect x="104" y="1369.5" width="115.7" height="23.2" fill="#111"/>
<text x="108.3" y="1388.6" font-family="Liberation Serif" font-size="22" fill="#fff" textLength="106.8" lengthAdjust="spacingAndGlyphs" stroke="#fff" stroke-width="0.35">PURINA</text>
<g transform="translate(232,1393.8) scale(1.14,1)"><text x="0" y="0" font-family="Liberation Sans" font-size="31.5" fill="#1a1a1a" textLength="122.81" lengthAdjust="spacing" stroke="#fff" stroke-width="0.45">Institute</text></g>
<rect x="77.3" y="1402.8" width="296" height="1" fill="#9c605b"/>
<text x="77.3" y="1420" font-family="Liberation Sans" font-size="11.6" fill="#222" textLength="297" lengthAdjust="spacing">Advancing Science for Pet Health</text>
</g>
<rect x="0" y="1463.6" width="1090" height="37" fill="#d62b1f"/><rect x="0" y="1463.6" width="1090" height="1" fill="#b52e26"/>
<text x="942" y="1485.8" font-family="Liberation Sans" font-size="16.2" fill="#fdf1ea" textLength="71" lengthAdjust="spacingAndGlyphs" stroke="#fdf1ea" stroke-width="0.3">RN/CRCE</text>
</svg>
</body></html>
